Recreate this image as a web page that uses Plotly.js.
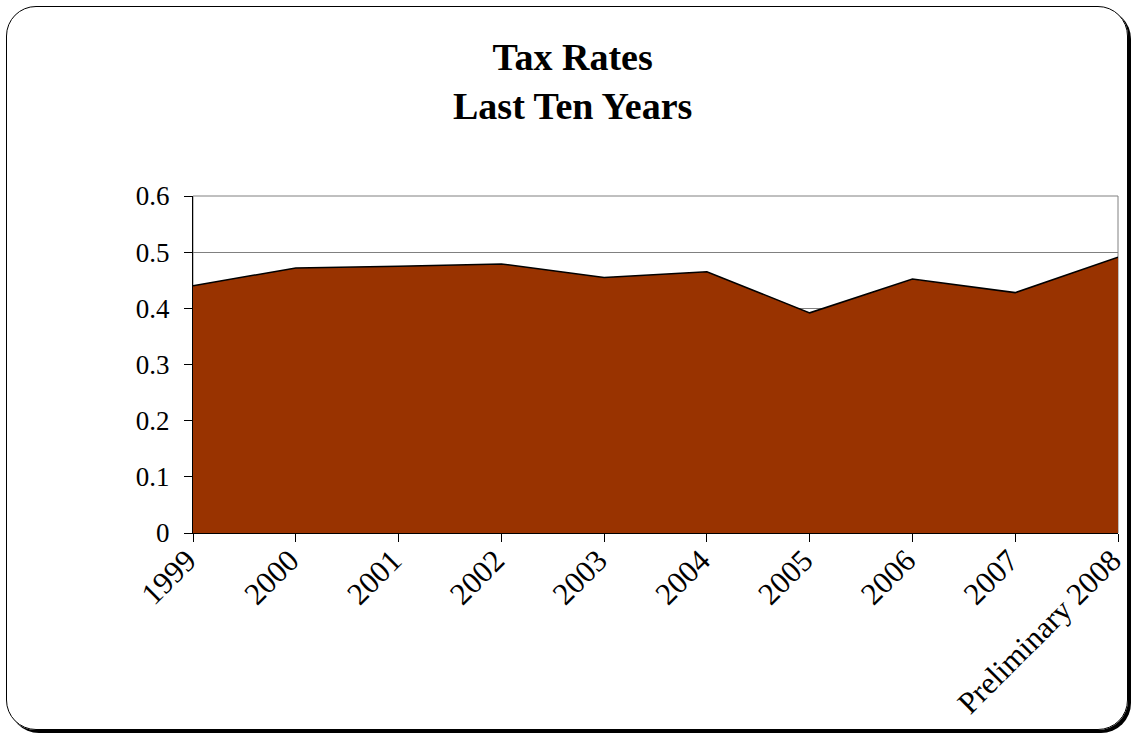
<!DOCTYPE html>
<html>
<head>
<meta charset="utf-8">
<script src="https://cdn.plot.ly/plotly-3.0.1.min.js"></script>
<style>
  html, body { margin: 0; padding: 0; background: #ffffff; }
  #wrap { position: relative; width: 1134px; height: 736px; overflow: hidden; }
  #chart { position: absolute; left: 0; top: 0; width: 1134px; height: 736px; }
  #frame { position: absolute; left: 6px; top: 6px; width: 1120px; height: 722px;
           border: 1.5px solid #000; border-radius: 30px;
           box-shadow: 3px 3px 0 #000; pointer-events: none; }
</style>
</head>
<body>
<div id="wrap">
  <div id="chart"></div>
  <div id="frame"></div>
</div>
<script>
const years = ["1999", "2000", "2001", "2002", "2003", "2004", "2005", "2006", "2007", "Preliminary 2008"];
const taxRates = [0.44, 0.472, 0.475, 0.479, 0.455, 0.465, 0.392, 0.452, 0.428, 0.491];
const yTicks = [0, 0.1, 0.2, 0.3, 0.4, 0.5, 0.6];
const yTickLabels = ["0", "0.1", "0.2", "0.3", "0.4", "0.5", "0.6"];

const serif = '"Liberation Serif", "Times New Roman", serif';

const trace = {
  type: 'scatter',
  mode: 'lines',
  x: years,
  y: taxRates,
  fill: 'tozeroy',
  fillcolor: '#993300',
  line: { color: '#000000', width: 1.5 },
  hoverinfo: 'x+y'
};

const layout = {
  width: 1134,
  height: 736,
  paper_bgcolor: 'rgba(0,0,0,0)',
  plot_bgcolor: '#ffffff',
  margin: { l: 193, r: 16, t: 196, b: 203 },
  showlegend: false,
  title: {
    text: '<b>Tax Rates<br>Last Ten Years</b>',
    font: { family: serif, size: 38, color: '#000000' },
    x: 0.505,
    xanchor: 'center',
    xref: 'container',
    y: 0.905,
    yanchor: 'top',
    yref: 'container'
  },
  xaxis: {
    type: 'category',
    range: [0, years.length - 1],
    showgrid: false,
    zeroline: false,
    showline: true,
    linecolor: '#000000',
    linewidth: 1,
    ticks: 'outside',
    ticklen: 8,
    tickcolor: '#000000',
    tickangle: -45,
    ticklabelstandoff: -12,
    ticklabelshift: -6,
    tickfont: { family: serif, size: 31, color: '#000000' },
    fixedrange: true
  },
  yaxis: {
    range: [0, 0.6],
    tickvals: yTicks,
    ticktext: yTickLabels,
    showgrid: true,
    gridcolor: '#808080',
    gridwidth: 1,
    zeroline: false,
    showline: true,
    linecolor: '#000000',
    linewidth: 1,
    ticks: 'outside',
    ticklen: 8,
    tickcolor: '#000000',
    ticklabelstandoff: 9,
    tickfont: { family: serif, size: 27, color: '#000000' },
    fixedrange: true
  },
  shapes: [{
    type: 'rect',
    xref: 'paper', yref: 'paper',
    x0: 0, x1: 1, y0: 0, y1: 1,
    line: { color: '#808080', width: 1 },
    layer: 'below'
  }]
};

Plotly.newPlot('chart', [trace], layout, { displayModeBar: false, staticPlot: false });
</script>
</body>
</html>
